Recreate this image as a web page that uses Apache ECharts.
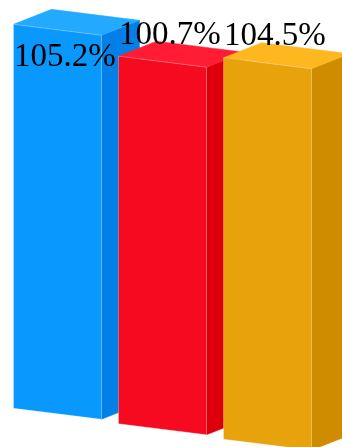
<!DOCTYPE html>
<html>
<head>
<meta charset="utf-8">
<style>
  html, body { margin: 0; padding: 0; background: #ffffff; }
  #chart { width: 342px; height: 447px; }
</style>
<script src="https://cdn.jsdelivr.net/npm/echarts@6/dist/echarts.min.js"></script>
</head>
<body>
<div id="chart"></div>
<script>
// Data
const categories = ['A', 'B', 'C'];
const values = [105.2, 100.7, 104.5];

// Face colours per bar: front, side, top
const frontColors = ['#0999FE', '#F50A20', '#E8A30C'];
const sideColors  = ['#0380E8', '#DD000A', '#D08C00'];
const topColors   = ['#23AAFF', '#FF1C34', '#FFB720'];

// Pseudo-3D geometry
const FRONT_W = 88;     // width of the front face
const DEPTH_X = 38;     // depth vector of the box
const DEPTH_Y = -15;
const FACE_SLOPE = 0.125;  // downward slant of horizontal edges across a face
const BASE_SLOPE = 0.147;  // downward slant of the floor from bar to bar
const FONT_SIZE = 33;

const chart = echarts.init(document.getElementById('chart'), null, { renderer: 'canvas' });

function renderItem(params, api) {
  const idx = api.value(0);
  const val = api.value(1);
  const base = api.coord([idx, 0]);
  const top = api.coord([idx, val]);
  const xRef = api.coord([0, 0])[0] - FRONT_W / 2;

  const x0 = base[0] - FRONT_W / 2;
  const x1 = x0 + FRONT_W;
  const s = BASE_SLOPE * (x0 - xRef);
  const f = FACE_SLOPE * FRONT_W;

  const ybL = base[1] + s, ytL = top[1] + s;
  const ybR = ybL + f, ytR = ytL + f;

  const edge = 'rgba(255,255,255,0.35)';

  const front = [[x0, ybL], [x0, ytL], [x1, ytR], [x1, ybR]];
  const side = [[x1, ytR], [x1 + DEPTH_X, ytR + DEPTH_Y], [x1 + DEPTH_X, ybR + DEPTH_Y], [x1, ybR]];
  const topFace = [[x0, ytL], [x0 + DEPTH_X, ytL + DEPTH_Y], [x1 + DEPTH_X, ytR + DEPTH_Y], [x1, ytR]];

  // Label sits above the box; if that would leave the canvas it drops inside the front face
  let labelCenterY = ytL - 21;
  if (labelCenterY - FONT_SIZE * 0.35 < 0) labelCenterY = ytL + 32.6;

  return {
    type: 'group',
    children: [
      { type: 'polygon', shape: { points: side }, style: { fill: sideColors[idx], stroke: sideColors[idx], lineWidth: 0.5 } },
      { type: 'polygon', shape: { points: topFace }, style: { fill: topColors[idx], stroke: topColors[idx], lineWidth: 0.5 } },
      { type: 'polygon', shape: { points: front }, style: { fill: frontColors[idx], stroke: edge, lineWidth: 0.8 } },
      {
        type: 'text',
        z2: 100,
        style: {
          x: x0 + 0.5,
          y: labelCenterY,
          text: val.toFixed(1) + '%',
          fill: '#000000',
          font: FONT_SIZE + 'px "Liberation Serif", "Times New Roman", serif',
          align: 'left',
          verticalAlign: 'middle'
        }
      }
    ]
  };
}

chart.setOption({
  animation: false,
  grid: { left: 5, right: 22, top: 6.8, bottom: 38.7, containLabel: false },
  xAxis: {
    type: 'category',
    data: categories,
    show: false
  },
  yAxis: {
    type: 'value',
    min: 0,
    max: 110,
    show: false
  },
  series: [{
    type: 'custom',
    renderItem: renderItem,
    clip: false,
    data: values.map((v, i) => [i, v])
  }]
});
</script>
</body>
</html>
